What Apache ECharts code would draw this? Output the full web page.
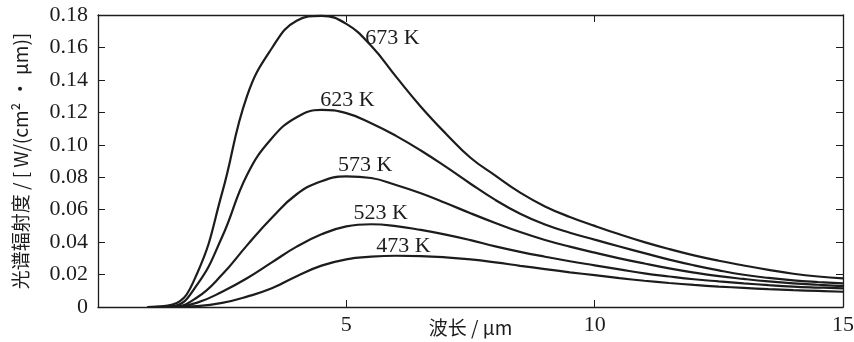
<!DOCTYPE html>
<html>
<head>
<meta charset="utf-8">
<script src="https://cdn.jsdelivr.net/npm/echarts@6/dist/echarts.min.js"></script>
<style>
  html, body { margin: 0; padding: 0; background: #fff; }
  #chart { width: 854px; height: 342px; }
</style>
</head>
<body>
<div id="chart"></div>
<script>
// wavelength (um)
const wavelength = [1, 1.5, 2, 2.5, 3, 3.5, 4, 4.5, 5, 5.5, 6, 6.5, 7, 7.5, 8, 8.5, 9, 9.5, 10, 10.5, 11, 11.5, 12, 12.5, 13, 13.5, 14, 14.5, 15];

// spectral radiance, W/(cm2*um)
const t673 = [0, 0.0015, 0.021, 0.0705, 0.130, 0.1595, 0.1765, 0.1795, 0.1745, 0.161, 0.142, 0.1235, 0.107, 0.092, 0.081, 0.0705, 0.062, 0.0555, 0.050, 0.0448, 0.040, 0.0357, 0.0318, 0.0285, 0.0256, 0.0229, 0.0205, 0.0188, 0.0177];
const t623 = [0, 0.0005, 0.014, 0.0433, 0.0814, 0.104, 0.117, 0.1215, 0.1195, 0.1133, 0.1055, 0.0965, 0.0865, 0.076, 0.066, 0.0575, 0.0508, 0.0458, 0.0415, 0.0373, 0.0332, 0.0292, 0.0257, 0.0226, 0.0199, 0.0179, 0.0164, 0.0154, 0.0146];
const t573 = [0, 0, 0.006, 0.020, 0.038, 0.055, 0.0695, 0.0775, 0.0805, 0.0795, 0.0752, 0.0701, 0.0641, 0.0578, 0.0518, 0.0462, 0.0413, 0.0372, 0.0335, 0.030, 0.0268, 0.0238, 0.0212, 0.019, 0.0173, 0.0158, 0.0146, 0.0137, 0.0129];
const t523 = [0, 0, 0.0027, 0.0094, 0.0177, 0.0275, 0.0372, 0.0448, 0.0497, 0.051, 0.0499, 0.0475, 0.0446, 0.0412, 0.0374, 0.034, 0.031, 0.0282, 0.0257, 0.0232, 0.0207, 0.0188, 0.0171, 0.0158, 0.0146, 0.0135, 0.0126, 0.012, 0.0115];
const t473 = [0, 0, 0.0005, 0.0025, 0.0064, 0.0115, 0.019, 0.0255, 0.0294, 0.031, 0.0316, 0.0314, 0.0306, 0.0293, 0.0275, 0.0254, 0.0234, 0.0214, 0.0196, 0.0178, 0.0162, 0.0148, 0.0136, 0.0126, 0.0118, 0.011, 0.0104, 0.0099, 0.0094];

const seriesNames = ["673 K", "623 K", "573 K", "523 K", "473 K"];
const seriesValues = [t673, t623, t573, t523, t473];
// where each temperature label sits (data units)
const labelAt = [[5.93, 0.1655], [5.02, 0.1273], [5.38, 0.0875], [5.69, 0.0580], [6.15, 0.0375]];

const ink = "#1c1c1c";
const serif = "'Liberation Serif', 'DejaVu Serif', serif";
const cjk = "'Noto Sans CJK SC', 'Liberation Serif', serif";

const chart = echarts.init(document.getElementById("chart"), null, { renderer: "canvas" });

const axisLine = { show: true, onZero: false, lineStyle: { color: ink, width: 1.3 } };
const tickIn = { show: true, inside: true, length: 7, lineStyle: { color: ink, width: 1 } };

chart.setOption({
  backgroundColor: "#fff",
  animation: false,
  grid: { left: 98, right: 11, top: 15, bottom: 35, containLabel: false, outerBoundsMode: "none" },
  xAxis: [{
    type: "value",
    min: 0, max: 15, interval: 5,
    name: "波长 / μm",
    nameLocation: "middle",
    nameGap: 11,
    nameMoveOverlap: false,
    nameTextStyle: { color: ink, fontFamily: cjk, fontSize: 19, verticalAlign: "top" },
    axisLine: axisLine,
    axisTick: tickIn,
    splitLine: { show: false },
    axisLabel: {
      color: ink, fontFamily: serif, fontSize: 22, margin: 7,
      formatter: (v) => (v === 0 ? "" : String(v)),
    },
  }, {
    type: "value", position: "top",
    min: 0, max: 15, interval: 5,
    axisLine: axisLine, axisTick: tickIn,
    axisLabel: { show: false }, splitLine: { show: false },
  }],
  yAxis: [{
    type: "value",
    min: 0, max: 0.18, interval: 0.02,
    name: "光谱辐射度 / [ W/(cm² · μm)]",
    nameLocation: "middle",
    nameRotate: 90,
    nameGap: 68,
    nameMoveOverlap: false,
    nameTextStyle: { color: ink, fontFamily: cjk, fontSize: 19 },
    axisLine: axisLine,
    axisTick: tickIn,
    splitLine: { show: false },
    axisLabel: {
      color: ink, fontFamily: serif, fontSize: 22, margin: 10,
      formatter: (v) => (v === 0 ? "0" : v.toFixed(2)),
    },
  }, {
    type: "value", position: "right",
    min: 0, max: 0.18, interval: 0.02,
    axisLine: axisLine, axisTick: tickIn,
    axisLabel: { show: false }, splitLine: { show: false },
  }],
  series: seriesNames.map((name, i) => ({
    name: name,
    type: "line",
    smooth: 0.45,
    showSymbol: false,
    data: wavelength.map((x, j) => [x, seriesValues[i][j]]),
    lineStyle: { color: ink, width: 2.2 },
    markPoint: {
      symbol: "circle",
      symbolSize: 1,
      silent: true,
      itemStyle: { color: "rgba(0,0,0,0)" },
      data: [{ coord: labelAt[i] }],
      label: {
        show: true, position: "inside", formatter: name,
        color: ink, fontFamily: serif, fontSize: 22,
      },
    },
  })),
});
</script>
</body>
</html>
